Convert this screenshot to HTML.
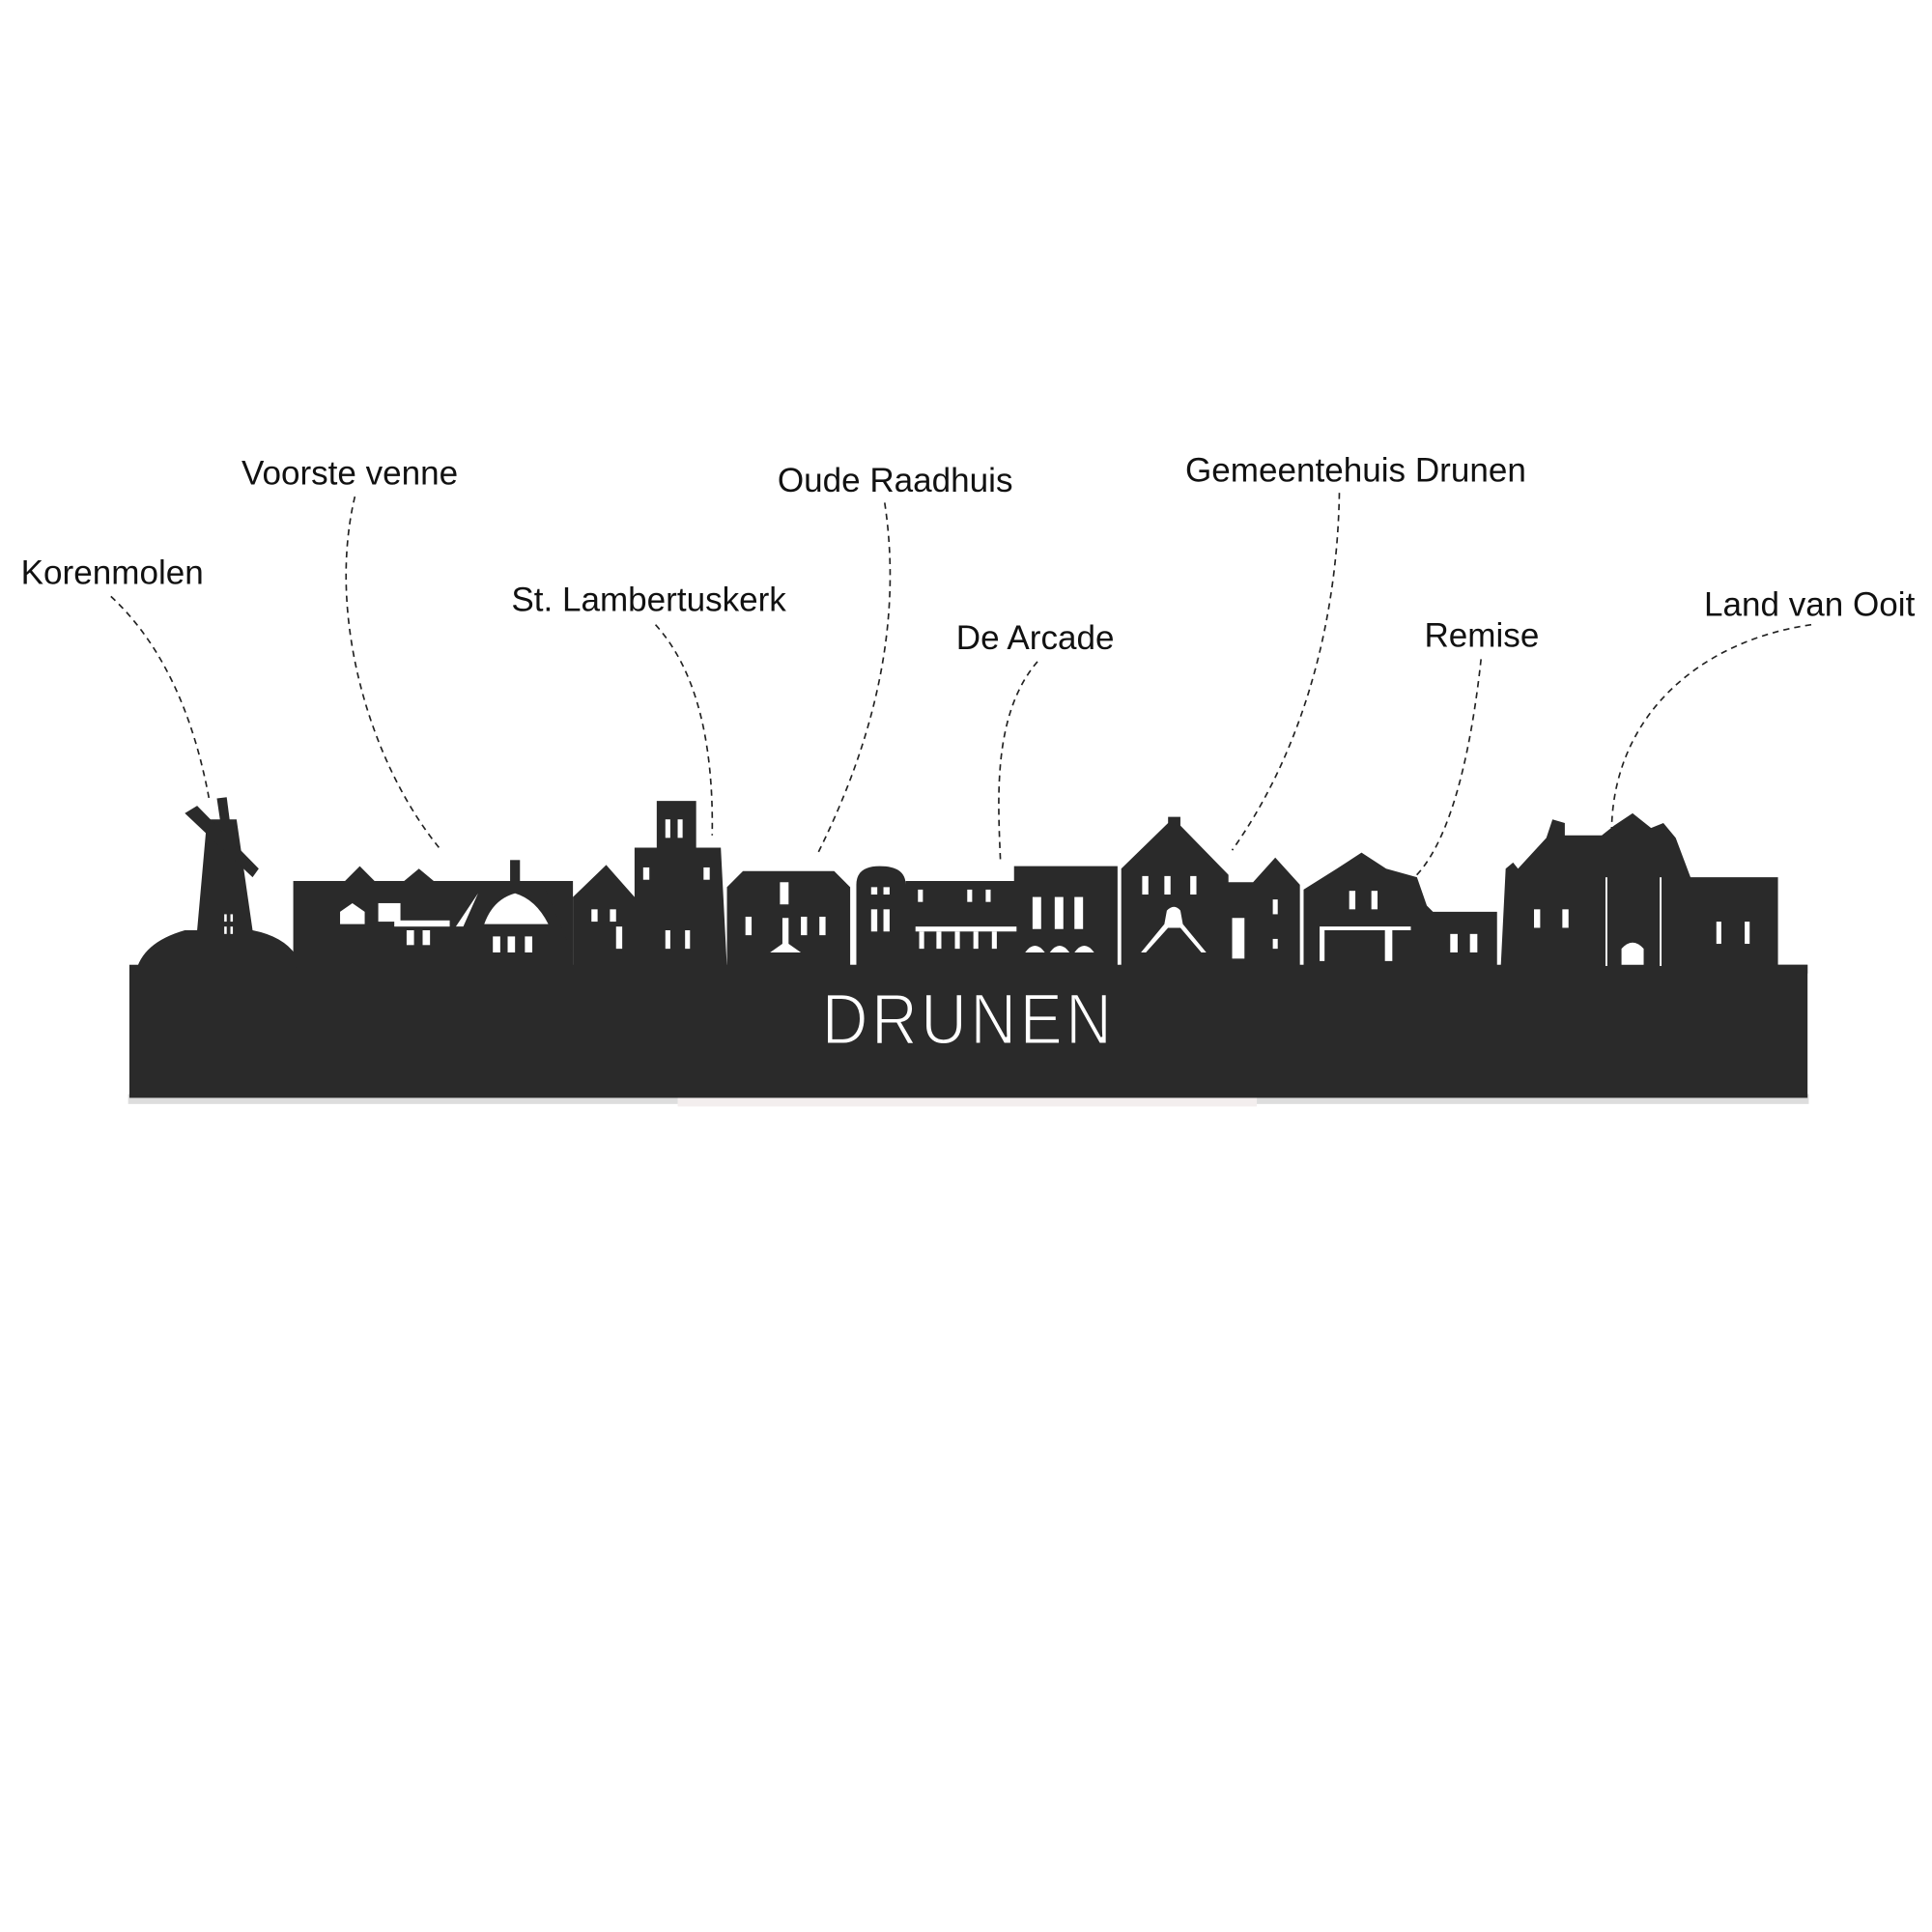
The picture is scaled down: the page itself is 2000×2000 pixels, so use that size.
<!DOCTYPE html>
<html><head><meta charset="utf-8"><style>html,body{margin:0;padding:0;background:#fff}svg{display:block}</style></head><body>
<svg width="2000" height="2000" viewBox="0 0 1568 1568" xmlns="http://www.w3.org/2000/svg">
<g font-family="Liberation Sans, sans-serif" font-size="27.5" fill="#111">
<text x="17" y="474">Korenmolen</text>
<text x="196" y="393">Voorste venne</text>
<text x="415" y="496">St. Lambertuskerk</text>
<text x="631" y="399">Oude Raadhuis</text>
<text x="776" y="527">De Arcade</text>
<text x="962" y="391">Gemeentehuis Drunen</text>
<text x="1156" y="525">Remise</text>
<text x="1383" y="500">Land van Ooit</text>
</g>
<g fill="none" stroke="#222" stroke-width="1.3" stroke-dasharray="5,4">
<path d="M90 484 Q150 540 170 650"/>
<path d="M288 403 C265 500 300 620 358 690"/>
<path d="M532 507 Q580 560 578 678"/>
<path d="M718 408 C735 520 700 620 663 694"/>
<path d="M842 537 C805 580 810 650 812 700"/>
<path d="M1087 400 C1085 520 1050 620 1000 690"/>
<path d="M1202 535 C1195 600 1180 680 1148 712"/>
<path d="M1470 507 C1380 520 1310 580 1308 672"/>
</g>
<rect x="104" y="888" width="1364" height="8" fill="#ddd"/>
<rect x="550" y="884" width="470" height="14" fill="#f3eeee"/>
<g fill="#2a2a2a">
<rect x="105" y="783" width="1362" height="108"/>
<path d="M110 790 Q115 765 150 755 L160 755 L168 665 L192 665 L205 755 Q230 760 240 775 L240 790 Z"/>
<path d="M150 660 L160 654 L210 705 L205 712 Z"/>
<path d="M176 648 L184 647 L198 755 L192 756 Z"/>
<rect x="238" y="715" width="227" height="70"/>
<path d="M280 715 L292 703 L304 715 Z M328 715 L340 705 L352 715 Z"/>
<path d="M385 715 L440 715 L465 775 L385 775 Z"/>
<rect x="414" y="698" width="8" height="20"/>
<path d="M465 740 L465 728 L492 702 L515 728 L515 688 L533 688 L533 650 L565 650 L565 688 L585 688 L590 785 L465 785 Z"/>
<path d="M590 720 L603 707 L677 707 L690 720 L690 785 L590 785 Z"/>
<path d="M695 785 L695 718 Q695 703 714 703 Q735 703 735 718 L735 715 L823 715 L823 703 L907 703 L907 785 Z"/>
<path d="M910 785 L910 705 L948 668 L948 663 L958 663 L958 670 L997 710 L997 716 L1017 716 L1035 696 L1055 718 L1055 785 Z"/>
<path d="M1058 785 L1058 722 L1085 705 L1105 692 L1125 705 L1150 712 L1158 735 L1163 740 L1215 740 L1215 785 Z"/>
<path d="M1218 785 L1222 705 L1228 700 L1232 705 L1255 680 L1260 665 L1270 668 L1270 678 L1300 678 L1310 670 L1325 660 L1340 672 L1350 668 L1360 680 L1372 712 L1443 712 L1443 783 L1467 783 L1467 790 Z"/>
</g>
<g fill="#fff">
<rect x="182" y="742" width="2" height="6"/><rect x="187" y="742" width="2" height="6"/><rect x="182" y="752" width="2" height="6"/><rect x="187" y="752" width="2" height="6"/>
<path d="M276 750 L276 740 L286 733 L296 740 L296 750 Z"/>
<rect x="307" y="733" width="18" height="15"/><rect x="320" y="747" width="45" height="5"/>
<path d="M370 752 L388 725 L376 752 Z"/>
<path d="M393 750 Q400 730 418 725 Q435 730 445 750 Z"/>
<rect x="330" y="755" width="6" height="12"/><rect x="343" y="755" width="6" height="12"/>
<rect x="400" y="760" width="6" height="13"/><rect x="412" y="760" width="6" height="13"/><rect x="426" y="760" width="6" height="13"/>
<rect x="540" y="665" width="4" height="15"/><rect x="550" y="665" width="4" height="15"/>
<rect x="522" y="704" width="5" height="10"/><rect x="571" y="704" width="5" height="10"/>
<rect x="480" y="738" width="5" height="10"/><rect x="495" y="738" width="5" height="10"/>
<rect x="500" y="752" width="5" height="18"/><rect x="540" y="755" width="4" height="15"/><rect x="556" y="755" width="4" height="15"/>
<rect x="633" y="716" width="7" height="18"/><rect x="605" y="744" width="5" height="15"/><rect x="650" y="744" width="5" height="15"/><rect x="665" y="744" width="5" height="15"/>
<path d="M635 745 L640 745 L640 766 L650 773 L625 773 L635 766 Z"/>
<rect x="707" y="720" width="5" height="6"/><rect x="717" y="720" width="5" height="6"/><rect x="707" y="738" width="5" height="18"/><rect x="717" y="738" width="5" height="18"/>
<rect x="745" y="722" width="4" height="10"/><rect x="785" y="722" width="4" height="10"/><rect x="800" y="722" width="4" height="10"/>
<rect x="743" y="752" width="82" height="4"/><rect x="746" y="756" width="4" height="14"/><rect x="760" y="756" width="4" height="14"/><rect x="775" y="756" width="4" height="14"/><rect x="790" y="756" width="4" height="14"/><rect x="805" y="756" width="4" height="14"/>
<rect x="838" y="728" width="7" height="26"/><rect x="856" y="728" width="7" height="26"/><rect x="872" y="728" width="7" height="26"/>
<path d="M832 773 Q840 762 848 773 Z M852 773 Q860 762 868 773 Z M872 773 Q880 762 888 773 Z"/>
<rect x="927" y="711" width="5" height="15"/><rect x="945" y="711" width="5" height="15"/><rect x="966" y="711" width="5" height="15"/>
<path d="M926 773 L945 750 L947 739 Q953 733 958 739 L960 750 L979 773 L975 773 L958 753 L948 753 L930 773 Z"/>
<rect x="1000" y="745" width="10" height="33"/><rect x="1033" y="730" width="4" height="12"/><rect x="1033" y="762" width="4" height="8"/>
<rect x="1095" y="723" width="5" height="15"/><rect x="1113" y="723" width="5" height="15"/>
<path d="M1071 780 L1071 752 L1145 752 L1145 755 L1130 755 L1130 780 L1124 780 L1124 755 L1075 755 L1075 780 Z"/>
<rect x="1177" y="758" width="6" height="15"/><rect x="1193" y="758" width="6" height="15"/>
<rect x="1245" y="738" width="5" height="15"/><rect x="1268" y="738" width="5" height="15"/>
<path d="M1316 783 L1316 770 Q1325 760 1334 770 L1334 783 Z"/>
<rect x="1303" y="712" width="1.5" height="72"/><rect x="1347" y="712" width="1.5" height="72"/>
<rect x="1393" y="748" width="4" height="18"/><rect x="1416" y="748" width="4" height="18"/>
</g>
<text x="667" y="847" font-family="Liberation Sans, sans-serif" font-size="58" fill="#fff" letter-spacing="3" textLength="238" lengthAdjust="spacingAndGlyphs" stroke="#2a2a2a" stroke-width="1.5">DRUNEN</text>
</svg>
</body></html>
